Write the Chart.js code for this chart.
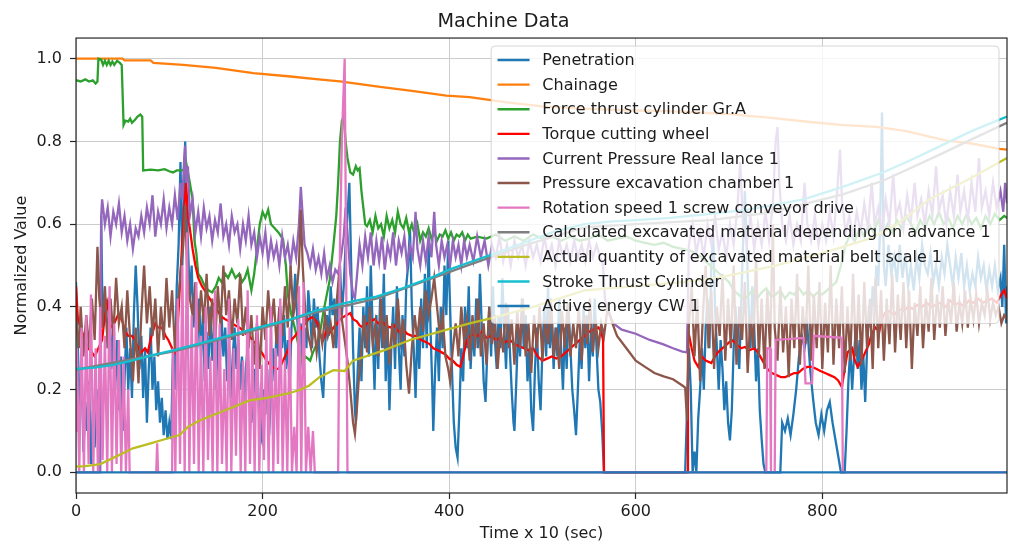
<!DOCTYPE html>
<html>
<head>
<meta charset="utf-8">
<title>Machine Data</title>
<script src="https://cdn.jsdelivr.net/npm/chart.js@4.4.1/dist/chart.umd.min.js"></script>
<style>
  html, body { margin: 0; padding: 0; background: #ffffff; }
  canvas { display: block; }
</style>
</head>
<body>
<canvas id="chart" width="1011" height="544"></canvas>
<script>
// Tick positions on both axes
const xTicks = [0, 200, 400, 600, 800];
const yTicks = [0.0, 0.2, 0.4, 0.6, 0.8, 1.0];

// Series names, in plotting order
const seriesNames = [
  'Penetration',
  'Chainage',
  'Force thrust cylinder Gr.A',
  'Torque cutting wheel',
  'Current Pressure Real lance 1',
  'Pressure excavation chamber 1',
  'Rotation speed 1 screw conveyor drive',
  'Calculated excavated material depending on advance 1',
  'Actual quantity of excavated material belt scale 1',
  'Stroke Thrust Cylinder',
  'Active energy CW 1'
];

// Each series: [time x 10 s, normalized value]
const penetration = [[0,0.46],[2,0.3],[4,0.15],[6,0.25],[8,0.05],[10,0.17],[12,0.1],[14,0.22],[16,0.02],[18,0.15],[20,0.06],[22,0.2],[24,0.12],[26,0.3],[27,0.62],[28,0.45],[30,0.36],[32,0.42],[34,0.3],[36,0.4],[38,0.25],[40,0.35],[42,0.2],[44,0.32],[46,0.15],[48,0.28],[50,0.1],[52,0.22],[54,0.35],[56,0.2],[58,0.3],[60,0.18],[62,0.38],[64,0.5],[66,0.4],[68,0.25],[70,0.33],[72,0.18],[74,0.3],[76,0.12],[78,0.25],[80,0.35],[82,0.2],[84,0.28],[86,0.15],[88,0.22],[90,0.12],[92,0.18],[94,0.09],[96,0.15],[98,0.08],[100,0.12],[102,0.08],[104,0.3],[106,0.2],[108,0.45],[110,0.55],[112,0.75],[114,0.5],[116,0.7],[117,0.8],[118,0.68],[120,0.55],[122,0.42],[124,0.5],[126,0.35],[128,0.45],[130,0.3],[132,0.42],[134,0.28],[136,0.38],[138,0.22],[140,0.34],[142,0.25],[144,0.4],[146,0.27],[148,0.35],[150,0.2],[152,0.32],[154,0.25],[156,0.38],[158,0.28],[160,0.35],[162,0.22],[164,0.3],[166,0.18],[168,0.28],[170,0.35],[172,0.25],[174,0.32],[176,0.2],[178,0.28],[180,0.15],[182,0.25],[184,0.3],[186,0.18],[188,0.12],[189,0.15],[191,0.25],[193,0.18],[195,0.22],[197,0.1],[199,0.08],[201,0.2],[203,0.14],[205,0.25],[207,0.09],[209,0.2],[211,0.3],[213,0.22],[215,0.35],[217,0.28],[219,0.4],[221,0.3],[223,0.38],[225,0.25],[227,0.32],[229,0.2],[231,0.35],[233,0.4],[235,0.48],[237,0.38],[239,0.3],[241,0.36],[243,0.25],[245,0.35],[247,0.3],[249,0.44],[251,0.38],[253,0.3],[255,0.42],[257,0.35],[259,0.4],[261,0.28],[263,0.22],[265,0.18],[267,0.3],[269,0.38],[271,0.33],[273,0.45],[275,0.38],[277,0.42],[279,0.3],[281,0.4],[283,0.5],[285,0.38],[287,0.45],[289,0.55],[291,0.62],[293,0.7],[295,0.5],[297,0.3],[299,0.15],[300,0.12],[302,0.25],[304,0.35],[306,0.22],[308,0.4],[310,0.3],[312,0.45],[314,0.28],[316,0.5],[318,0.35],[320,0.2],[322,0.38],[324,0.25],[326,0.42],[328,0.3],[330,0.48],[332,0.22],[334,0.35],[336,0.15],[338,0.3],[340,0.4],[342,0.25],[344,0.45],[346,0.3],[348,0.2],[350,0.38],[352,0.28],[354,0.45],[356,0.5],[358,0.59],[360,0.4],[362,0.3],[364,0.18],[366,0.35],[368,0.25],[370,0.42],[372,0.3],[374,0.48],[376,0.3],[378,0.55],[380,0.35],[382,0.2],[383,0.1],[385,0.25],[387,0.35],[389,0.22],[391,0.4],[393,0.3],[395,0.5],[397,0.38],[399,0.56],[401,0.4],[403,0.25],[405,0.12],[407,0.06],[409,0.036],[411,0.15],[413,0.3],[415,0.22],[417,0.4],[419,0.3],[421,0.45],[423,0.25],[425,0.35],[427,0.28],[429,0.42],[431,0.3],[433,0.48],[435,0.35],[437,0.22],[439,0.17],[441,0.3],[443,0.4],[445,0.28],[447,0.45],[449,0.32],[451,0.25],[453,0.38],[455,0.3],[457,0.47],[459,0.35],[461,0.25],[463,0.4],[465,0.3],[467,0.2],[469,0.12],[470,0.1],[472,0.22],[474,0.35],[476,0.28],[478,0.42],[480,0.3],[482,0.38],[484,0.22],[486,0.3],[488,0.15],[490,0.1],[492,0.25],[494,0.35],[496,0.22],[498,0.15],[500,0.3],[502,0.4],[504,0.28],[506,0.45],[508,0.3],[510,0.38],[512,0.25],[514,0.35],[516,0.28],[518,0.42],[520,0.3],[522,0.2],[524,0.35],[526,0.25],[528,0.4],[530,0.3],[532,0.2],[534,0.15],[536,0.09],[538,0.2],[540,0.32],[542,0.25],[544,0.4],[546,0.3],[548,0.38],[550,0.22],[552,0.35],[554,0.28],[556,0.42],[558,0.3],[560,0.2],[562,0.17],[564,0.1],[566,0.0],[653,0.0],[655,0.15],[657,0.3],[659,0.2],[661,0.0],[663,0.05],[665,0.0],[667,0.13],[669,0.2],[671,0.3],[673,0.2],[675,0.35],[677,0.42],[679,0.3],[681,0.5],[683,0.58],[685,0.4],[687,0.3],[689,0.2],[691,0.32],[693,0.25],[695,0.15],[697,0.22],[699,0.12],[701,0.077],[703,0.15],[705,0.3],[707,0.4],[709,0.3],[711,0.25],[713,0.4],[715,0.55],[717,0.68],[719,0.55],[721,0.4],[723,0.3],[725,0.45],[727,0.35],[729,0.22],[731,0.3],[733,0.15],[735,0.08],[737,0.02],[739,0.0],[755,0.0],[757,0.12],[760,0.1],[763,0.13],[766,0.09],[769,0.14],[772,0.2],[775,0.28],[778,0.33],[781,0.3],[784,0.35],[787,0.25],[790,0.18],[793,0.12],[796,0.09],[799,0.14],[802,0.1],[805,0.15],[808,0.17],[811,0.12],[814,0.08],[817,0.04],[820,0.0],[824,0.0],[826,0.1],[828,0.22],[830,0.3],[832,0.2],[834,0.28],[836,0.35],[838,0.25],[840,0.32],[842,0.2],[844,0.28],[846,0.17],[848,0.3],[850,0.4],[852,0.35],[854,0.45],[856,0.4],[858,0.5],[860,0.45],[862,0.6],[864,0.87],[866,0.5],[868,0.45],[871,0.55],[874,0.48],[877,0.52],[880,0.46],[883,0.55],[886,0.47],[889,0.53],[892,0.45],[895,0.5],[898,0.44],[901,0.52],[904,0.47],[907,0.55],[910,0.5],[913,0.48],[916,0.53],[919,0.46],[922,0.5],[925,0.45],[928,0.52],[931,0.48],[934,0.55],[937,0.5],[940,0.45],[943,0.52],[946,0.47],[949,0.53],[952,0.45],[955,0.5],[958,0.44],[961,0.48],[964,0.45],[967,0.52],[970,0.47],[973,0.5],[976,0.44],[979,0.49],[982,0.45],[985,0.5],[988,0.44],[991,0.47],[993,0.4],[995,0.55],[997,0.36],[998,0.45]];

const chainage = [[0,1.0],[50,1.0],[52,0.996],[80,0.996],[83,0.99],[115,0.985],[150,0.978],[190,0.965],[230,0.957],[260,0.95],[283,0.945],[326,0.932],[360,0.922],[397,0.911],[422,0.907],[460,0.895],[500,0.885],[540,0.88],[580,0.876],[637,0.873],[694,0.867],[740,0.858],[787,0.847],[820,0.84],[858,0.835],[890,0.825],[933,0.802],[960,0.795],[990,0.782],[998,0.78]];

const forceThrust = [[0,0.948],[5,0.945],[10,0.95],[14,0.945],[18,0.948],[21,0.94],[23,0.945],[24,1.0],[27,0.998],[29,0.985],[31,0.995],[33,0.985],[35,0.995],[37,0.985],[39,0.993],[41,0.985],[44,0.995],[47,0.99],[49,0.985],[51,0.84],[53,0.85],[56,0.848],[58,0.855],[60,0.845],[63,0.852],[66,0.86],[69,0.865],[71,0.86],[72,0.73],[80,0.732],[88,0.73],[95,0.733],[100,0.728],[104,0.725],[108,0.73],[112,0.73],[115,0.73],[118,0.75],[120,0.725],[122,0.7],[125,0.66],[127,0.56],[129,0.53],[131,0.48],[134,0.47],[138,0.45],[142,0.44],[146,0.435],[150,0.45],[153,0.47],[156,0.46],[160,0.48],[163,0.47],[167,0.49],[171,0.47],[175,0.48],[178,0.46],[181,0.47],[184,0.49],[188,0.44],[191,0.48],[194,0.54],[197,0.6],[200,0.63],[203,0.615],[206,0.635],[209,0.6],[213,0.59],[217,0.58],[222,0.563],[225,0.5],[227,0.43],[231,0.38],[235,0.345],[239,0.3],[242,0.27],[246,0.28],[251,0.27],[254,0.29],[258,0.31],[261,0.33],[265,0.385],[268,0.42],[272,0.465],[276,0.55],[279,0.62],[281,0.7],[283,0.8],[285,0.85],[287,0.86],[289,0.8],[291,0.76],[294,0.725],[297,0.72],[300,0.74],[302,0.73],[304,0.735],[306,0.68],[308,0.64],[310,0.6],[312,0.595],[315,0.61],[318,0.58],[321,0.62],[324,0.59],[327,0.6],[330,0.57],[333,0.62],[336,0.59],[339,0.61],[342,0.58],[345,0.63],[348,0.6],[351,0.59],[354,0.615],[357,0.58],[360,0.6],[363,0.575],[366,0.6],[369,0.56],[372,0.58],[375,0.57],[378,0.59],[381,0.565],[384,0.58],[387,0.56],[390,0.575],[393,0.57],[396,0.585],[399,0.565],[402,0.58],[405,0.56],[408,0.575],[411,0.57],[414,0.58],[417,0.56],[420,0.575],[423,0.565],[430,0.57],[440,0.565],[450,0.575],[460,0.56],[470,0.57],[480,0.56],[490,0.575],[500,0.565],[510,0.57],[520,0.56],[530,0.57],[540,0.56],[550,0.565],[560,0.575],[570,0.56],[580,0.565],[590,0.57],[600,0.56],[610,0.555],[620,0.55],[630,0.555],[640,0.545],[650,0.54],[660,0.535],[670,0.52],[680,0.5],[690,0.48],[700,0.46],[705,0.44],[710,0.43],[715,0.42],[720,0.425],[725,0.44],[730,0.42],[735,0.435],[740,0.445],[745,0.425],[750,0.43],[755,0.44],[760,0.42],[765,0.435],[770,0.43],[775,0.445],[780,0.43],[785,0.44],[790,0.425],[795,0.435],[800,0.43],[805,0.44],[810,0.45],[815,0.46],[820,0.5],[825,0.55],[830,0.575],[835,0.56],[840,0.59],[845,0.57],[850,0.6],[855,0.58],[860,0.61],[865,0.575],[870,0.6],[875,0.58],[880,0.61],[885,0.59],[890,0.62],[895,0.6],[900,0.58],[905,0.61],[910,0.59],[915,0.62],[920,0.6],[925,0.63],[930,0.6],[935,0.615],[940,0.59],[945,0.62],[950,0.6],[955,0.625],[960,0.6],[965,0.615],[970,0.59],[975,0.62],[980,0.6],[985,0.625],[990,0.61],[995,0.62],[998,0.615]];

const torque = [[0,0.45],[2,0.37],[5,0.35],[8,0.33],[13,0.3],[17,0.29],[20,0.28],[24,0.3],[28,0.32],[31,0.38],[34,0.41],[37,0.35],[41,0.36],[45,0.38],[49,0.37],[53,0.34],[56,0.33],[60,0.33],[63,0.32],[67,0.3],[70,0.29],[74,0.3],[77,0.29],[81,0.33],[85,0.36],[88,0.35],[92,0.35],[96,0.33],[99,0.32],[103,0.3],[106,0.29],[109,0.35],[112,0.48],[114,0.56],[116,0.64],[118,0.7],[120,0.62],[122,0.59],[125,0.54],[128,0.5],[131,0.47],[135,0.45],[138,0.44],[142,0.425],[146,0.41],[149,0.4],[152,0.39],[156,0.376],[160,0.37],[164,0.365],[167,0.36],[171,0.355],[175,0.35],[178,0.345],[182,0.335],[186,0.33],[189,0.32],[193,0.31],[196,0.3],[199,0.29],[203,0.275],[206,0.265],[210,0.255],[214,0.25],[217,0.25],[220,0.26],[224,0.28],[228,0.3],[231,0.32],[235,0.33],[238,0.34],[242,0.35],[246,0.36],[249,0.37],[253,0.375],[256,0.37],[259,0.36],[262,0.33],[265,0.32],[268,0.34],[272,0.337],[276,0.35],[280,0.36],[283,0.37],[286,0.375],[290,0.38],[294,0.385],[297,0.37],[301,0.365],[304,0.355],[308,0.35],[312,0.36],[316,0.365],[320,0.37],[324,0.36],[328,0.365],[332,0.355],[337,0.35],[341,0.355],[346,0.34],[351,0.345],[355,0.335],[360,0.33],[365,0.33],[370,0.32],[375,0.315],[379,0.31],[383,0.3],[388,0.295],[392,0.29],[396,0.285],[400,0.275],[404,0.27],[408,0.26],[412,0.255],[415,0.28],[419,0.32],[423,0.33],[427,0.335],[431,0.33],[435,0.34],[440,0.325],[445,0.33],[450,0.32],[455,0.325],[460,0.315],[465,0.32],[470,0.31],[475,0.305],[480,0.3],[485,0.295],[490,0.3],[495,0.28],[500,0.27],[505,0.275],[510,0.28],[515,0.275],[520,0.28],[525,0.29],[530,0.3],[535,0.31],[540,0.32],[545,0.33],[550,0.34],[555,0.345],[560,0.35],[563,0.34],[565,0.32],[566,0.0],[655,0.0],[656,0.345],[660,0.3],[663,0.27],[667,0.255],[671,0.28],[675,0.27],[681,0.264],[685,0.28],[688,0.29],[693,0.3],[698,0.31],[703,0.32],[708,0.31],[713,0.3],[717,0.303],[722,0.295],[727,0.3],[731,0.29],[736,0.27],[741,0.25],[746,0.24],[751,0.235],[756,0.23],[760,0.23],[765,0.235],[770,0.24],[774,0.24],[779,0.25],[784,0.255],[789,0.255],[794,0.25],[798,0.245],[803,0.24],[808,0.235],[813,0.23],[817,0.222],[821,0.206],[824,0.25],[827,0.29],[832,0.3],[835,0.27],[838,0.255],[842,0.27],[846,0.29],[850,0.31],[853,0.335],[857,0.35],[861,0.34],[864,0.37],[867,0.385],[872,0.39],[877,0.38],[882,0.395],[887,0.39],[892,0.4],[897,0.395],[902,0.405],[907,0.4],[912,0.41],[917,0.4],[922,0.405],[927,0.41],[932,0.4],[937,0.415],[942,0.405],[947,0.41],[952,0.4],[957,0.415],[962,0.41],[967,0.42],[972,0.41],[977,0.415],[982,0.42],[987,0.41],[992,0.43],[995,0.44],[998,0.42]];

const lancePressure = [[0,0],[26,0],[27,0.62],[28,0.66],[31,0.6],[34,0.64],[37,0.57],[40,0.63],[43,0.6],[46,0.65],[49,0.58],[52,0.62],[55,0.56],[58,0.6],[61,0.54],[64,0.59],[67,0.57],[70,0.62],[73,0.58],[76,0.64],[79,0.6],[82,0.67],[85,0.57],[88,0.63],[91,0.6],[94,0.66],[97,0.59],[100,0.64],[103,0.6],[106,0.67],[109,0.61],[112,0.7],[114,0.66],[116,0.76],[117,0.79],[118,0.7],[120,0.74],[122,0.62],[125,0.66],[128,0.58],[131,0.63],[134,0.57],[137,0.64],[140,0.59],[143,0.62],[146,0.56],[149,0.61],[152,0.58],[155,0.65],[158,0.57],[161,0.6],[164,0.55],[167,0.62],[170,0.58],[173,0.6],[176,0.54],[179,0.6],[182,0.56],[185,0.62],[188,0.55],[191,0.58],[194,0.52],[197,0.57],[200,0.53],[203,0.58],[206,0.51],[209,0.56],[212,0.52],[215,0.55],[218,0.5],[221,0.57],[224,0.52],[227,0.55],[230,0.5],[233,0.56],[236,0.52],[239,0.6],[241,0.69],[243,0.62],[245,0.55],[248,0.53],[251,0.5],[254,0.54],[257,0.49],[260,0.52],[263,0.48],[266,0.53],[269,0.47],[272,0.5],[275,0.46],[278,0.49],[281,0.48],[284,0.52],[287,0.57],[289,0.64],[291,0.58],[294,0.48],[297,0.43],[299,0.42],[301,0.47],[304,0.55],[307,0.5],[310,0.57],[313,0.52],[316,0.58],[319,0.5],[322,0.56],[325,0.51],[328,0.57],[331,0.49],[334,0.55],[337,0.52],[340,0.58],[343,0.5],[346,0.56],[349,0.53],[352,0.57],[355,0.5],[358,0.55],[361,0.52],[364,0.63],[366,0.54],[369,0.5],[372,0.56],[375,0.51],[378,0.57],[381,0.52],[384,0.63],[386,0.55],[389,0.5],[392,0.56],[395,0.52],[398,0.55],[401,0.5],[404,0.56],[407,0.52],[410,0.55],[413,0.5],[416,0.56],[419,0.52],[422,0.55],[426,0.51],[430,0.57],[434,0.52],[438,0.56],[442,0.5],[446,0.55],[450,0.52],[454,0.57],[458,0.51],[462,0.55],[466,0.5],[470,0.56],[474,0.52],[478,0.55],[482,0.5],[486,0.56],[490,0.52],[494,0.55],[498,0.51],[502,0.57],[506,0.52],[510,0.55],[514,0.5],[518,0.56],[522,0.52],[526,0.55],[530,0.51],[534,0.56],[538,0.52],[542,0.55],[546,0.51],[550,0.56],[554,0.52],[558,0.55],[562,0.52],[565,0.5],[567,0.42],[570,0.39],[576,0.36],[585,0.345],[600,0.335],[615,0.32],[629,0.31],[640,0.3],[650,0.292],[655,0.29],[657,0.55],[661,0.6],[665,0.53],[669,0.58],[673,0.52],[677,0.6],[681,0.55],[685,0.62],[689,0.54],[693,0.58],[697,0.52],[701,0.6],[705,0.55],[709,0.64],[712,0.75],[715,0.6],[719,0.55],[723,0.62],[727,0.54],[731,0.6],[735,0.55],[739,0.63],[743,0.56],[747,0.65],[750,0.8],[752,0.835],[754,0.7],[757,0.6],[761,0.56],[765,0.62],[769,0.55],[773,0.6],[777,0.56],[781,0.7],[784,0.6],[788,0.56],[792,0.62],[796,0.55],[800,0.6],[804,0.56],[808,0.63],[812,0.57],[816,0.68],[819,0.78],[821,0.66],[825,0.58],[829,0.62],[833,0.57],[837,0.63],[841,0.58],[845,0.65],[849,0.59],[853,0.7],[856,0.6],[860,0.64],[864,0.58],[868,0.66],[872,0.6],[876,0.72],[879,0.62],[883,0.65],[887,0.59],[891,0.67],[895,0.61],[899,0.7],[902,0.62],[906,0.66],[910,0.6],[914,0.68],[918,0.62],[922,0.74],[925,0.63],[929,0.67],[933,0.6],[937,0.68],[941,0.62],[945,0.72],[948,0.63],[952,0.68],[956,0.61],[960,0.7],[964,0.63],[968,0.76],[971,0.64],[975,0.68],[979,0.62],[983,0.7],[987,0.64],[991,0.68],[994,0.63],[996,0.7],[998,0.65]];

const chamberPressure = [[0,0.37],[3,0.3],[5,0.4],[8,0.28],[11,0.38],[14,0.3],[17,0.42],[20,0.32],[23,0.545],[25,0.42],[28,0.35],[31,0.45],[34,0.3],[37,0.42],[40,0.33],[43,0.47],[46,0.36],[49,0.4],[52,0.3],[55,0.44],[58,0.32],[61,0.22],[64,0.35],[67,0.215],[70,0.38],[73,0.5],[76,0.36],[79,0.45],[82,0.33],[85,0.42],[88,0.28],[91,0.4],[94,0.32],[97,0.47],[100,0.35],[103,0.44],[106,0.3],[109,0.4],[112,0.48],[115,0.55],[117,0.645],[119,0.5],[122,0.42],[125,0.38],[128,0.46],[131,0.34],[134,0.44],[137,0.36],[140,0.48],[143,0.33],[146,0.42],[149,0.3],[152,0.45],[155,0.35],[158,0.5],[161,0.38],[164,0.44],[167,0.32],[170,0.42],[173,0.36],[176,0.48],[179,0.33],[182,0.4],[185,0.3],[188,0.38],[191,0.26],[194,0.36],[197,0.25],[200,0.4],[203,0.32],[206,0.44],[209,0.35],[212,0.42],[215,0.31],[218,0.4],[221,0.33],[224,0.45],[227,0.35],[230,0.5],[233,0.38],[236,0.42],[239,0.5],[241,0.635],[243,0.5],[246,0.38],[249,0.33],[252,0.3],[255,0.36],[258,0.29],[261,0.35],[264,0.31],[267,0.38],[270,0.33],[273,0.36],[276,0.3],[279,0.4],[282,0.48],[285,0.37],[288,0.32],[291,0.27],[294,0.2],[297,0.12],[299,0.093],[301,0.15],[303,0.22],[306,0.3],[309,0.38],[312,0.29],[315,0.4],[318,0.31],[321,0.36],[324,0.28],[327,0.42],[330,0.3],[333,0.38],[336,0.26],[339,0.36],[342,0.3],[345,0.42],[348,0.32],[351,0.37],[354,0.26],[357,0.19],[360,0.3],[363,0.38],[366,0.32],[369,0.4],[372,0.34],[375,0.44],[378,0.38],[381,0.42],[384,0.47],[387,0.4],[390,0.33],[393,0.38],[396,0.28],[399,0.25],[401,0.22],[404,0.3],[407,0.36],[410,0.28],[413,0.4],[416,0.32],[419,0.37],[422,0.27],[425,0.38],[428,0.3],[431,0.42],[434,0.28],[437,0.36],[440,0.26],[443,0.4],[446,0.31],[449,0.38],[452,0.25],[455,0.35],[458,0.29],[461,0.41],[464,0.3],[467,0.37],[470,0.26],[473,0.39],[476,0.3],[479,0.42],[482,0.28],[485,0.36],[488,0.24],[491,0.38],[494,0.3],[497,0.4],[500,0.27],[503,0.37],[506,0.31],[509,0.42],[512,0.28],[515,0.35],[518,0.25],[521,0.39],[524,0.3],[527,0.41],[530,0.28],[533,0.36],[536,0.3],[539,0.4],[542,0.27],[545,0.38],[548,0.31],[551,0.42],[554,0.29],[557,0.37],[560,0.3],[563,0.36],[566,0.33],[570,0.4],[575,0.36],[580,0.33],[590,0.3],[600,0.27],[610,0.255],[620,0.24],[630,0.232],[640,0.225],[650,0.21],[653,0.205],[655,0.125],[657,0.36],[660,0.45],[663,0.28],[666,0.42],[669,0.22],[672,0.38],[675,0.5],[678,0.3],[681,0.44],[684,0.25],[687,0.4],[690,0.33],[693,0.48],[696,0.27],[699,0.42],[702,0.3],[705,0.5],[708,0.26],[711,0.4],[714,0.32],[717,0.46],[720,0.24],[723,0.38],[726,0.3],[729,0.52],[732,0.28],[735,0.42],[738,0.25],[741,0.44],[744,0.3],[747,0.6],[749,0.35],[752,0.27],[755,0.45],[758,0.29],[761,0.4],[764,0.23],[767,0.42],[770,0.3],[773,0.48],[776,0.26],[779,0.4],[782,0.31],[785,0.5],[788,0.27],[791,0.43],[794,0.3],[797,0.46],[800,0.25],[803,0.41],[806,0.29],[809,0.5],[812,0.26],[815,0.42],[818,0.3],[821,0.45],[824,0.24],[827,0.4],[830,0.27],[833,0.48],[836,0.28],[839,0.43],[842,0.26],[845,0.46],[848,0.3],[851,0.42],[854,0.25],[857,0.47],[860,0.3],[863,0.44],[866,0.27],[869,0.42],[872,0.31],[875,0.48],[878,0.29],[881,0.43],[884,0.32],[887,0.46],[890,0.3],[893,0.44],[896,0.25],[899,0.41],[902,0.33],[905,0.45],[908,0.3],[911,0.42],[914,0.34],[917,0.47],[920,0.32],[923,0.43],[926,0.35],[929,0.45],[932,0.33],[935,0.42],[938,0.36],[941,0.46],[944,0.34],[947,0.41],[950,0.36],[953,0.44],[956,0.35],[959,0.42],[962,0.37],[965,0.43],[968,0.36],[971,0.41],[974,0.38],[977,0.44],[980,0.37],[983,0.41],[986,0.38],[989,0.4],[992,0.36],[995,0.38],[998,0.37]];

const screwSpeed = [[0,0.1],[1,0.3],[3.5,0],[6,0.35],[8.5,0],[11,0.38],[13.5,0.02],[16,0.43],[18.5,0],[21,0.3],[23.5,0],[26,0.4],[28.5,0.03],[31,0.33],[33.5,0],[36,0.45],[38.5,0],[41,0.36],[43.5,0.02],[46,0.32],[48.5,0],[51,0.28],[53.5,0],[56,0.2],[57.5,0],[86,0],[87,0.07],[88,0],[103,0],[104,0.3],[106.5,0],[109,0.42],[111.5,0.02],[114,0.5],[116.5,0],[119,0.58],[121.5,0],[124,0.38],[126.5,0.02],[129,0.46],[131.5,0],[134,0.33],[136.5,0],[139,0.4],[141.5,0.03],[144,0.28],[146.5,0],[149,0.44],[151.5,0],[154,0.36],[156.5,0.02],[159,0.25],[161.5,0],[164,0.42],[166.5,0],[169,0.3],[171.5,0.04],[174,0.37],[176.5,0],[179,0.27],[181.5,0],[184,0.44],[186.5,0.02],[189,0.32],[191.5,0],[194,0.38],[196.5,0],[199,0.26],[201.5,0.03],[204,0.35],[206.5,0],[209,0.4],[211.5,0],[214,0.3],[216.5,0.02],[219,0.42],[221.5,0],[224,0.27],[226.5,0],[229,0.35],[231.5,0],[234,0.11],[236.5,0],[239,0.45],[241.5,0],[244,0.46],[246.5,0],[249,0.11],[251.5,0],[254,0.1],[256,0],[281,0],[283,0.55],[285,0.8],[288,1.0],[289,0.7],[291,0],[740,0],[741,0.3],[744,0.3],[745,0],[749,0],[750,0.32],[780,0.325],[782,0.215],[789,0.215],[791,0.33],[821,0.325],[822,0],[998,0]];

const calculatedMaterial = [[0,0.248],[106,0.293],[199,0.348],[256,0.386],[322,0.42],[422,0.502],[480,0.548],[545,0.592],[600,0.6],[680,0.61],[744,0.628],[822,0.672],[865,0.705],[923,0.765],[960,0.805],[998,0.845]];

const beltScale = [[0,0.014],[10,0.015],[26,0.02],[40,0.035],[61,0.058],[80,0.07],[95,0.08],[111,0.09],[120,0.11],[133,0.126],[160,0.15],[186,0.174],[205,0.18],[226,0.19],[240,0.199],[250,0.21],[261,0.23],[276,0.247],[288,0.245],[297,0.27],[330,0.295],[358,0.32],[390,0.34],[422,0.36],[450,0.375],[490,0.4],[545,0.44],[600,0.45],[650,0.46],[688,0.47],[750,0.5],[800,0.53],[851,0.565],[880,0.6],[915,0.66],[958,0.71],[998,0.76]];

const strokeCylinder = [[0,0.25],[20,0.253],[40,0.26],[60,0.27],[80,0.282],[106,0.296],[130,0.31],[160,0.328],[199,0.352],[230,0.37],[256,0.39],[280,0.405],[300,0.415],[322,0.425],[350,0.445],[380,0.47],[400,0.49],[422,0.508],[450,0.53],[480,0.555],[510,0.58],[545,0.6],[572,0.606],[600,0.61],[637,0.615],[680,0.625],[720,0.635],[744,0.645],[780,0.66],[822,0.69],[865,0.725],[895,0.755],[923,0.785],[960,0.825],[998,0.86]];

const activeEnergy = [[0,0],[998,0]];

const seriesData = [penetration, chainage, forceThrust, torque, lancePressure, chamberPressure,
  screwSpeed, calculatedMaterial, beltScale, strokeCylinder, activeEnergy];

const seriesColors = ['#1f77b4', '#ff7f0e', '#2ca02c', '#ff0000', '#9467bd', '#8c564b',
  '#e377c2', '#7f7f7f', '#bcbd22', '#17becf', '#1f77b4'];

const FONT = 'DejaVu Sans';
const TEXT = '#1c1c1c';

// Spines around the axes, drawn over the lines like matplotlib does
const spinesPlugin = {
  id: 'spines',
  afterDatasetsDraw(chart) {
    const { ctx, chartArea: a } = chart;
    ctx.save();
    ctx.strokeStyle = '#262626';
    ctx.lineWidth = 1.2;
    ctx.strokeRect(a.left, a.top, a.right - a.left, a.bottom - a.top);
    ctx.restore();
  }
};

// Legend box inside the upper right corner of the axes, semi-transparent
const innerLegendPlugin = {
  id: 'innerLegend',
  afterDraw(chart) {
    const { ctx, chartArea: a } = chart;
    const fs = 16;
    const pad = 0.4 * fs, handle = 2 * fs, gap = 0.8 * fs, rowH = 24.6;
    ctx.save();
    ctx.font = fs + 'px "' + FONT + '"';
    let maxW = 0;
    seriesNames.forEach(n => { maxW = Math.max(maxW, ctx.measureText(n).width); });
    const w = pad + handle + gap + maxW + pad + 2;
    const h = pad * 2 + rowH * seriesNames.length - 6;
    const right = a.right - 8, top = a.top + 8;
    const left = right - w;
    ctx.beginPath();
    if (ctx.roundRect) ctx.roundRect(left, top, w, h, 4); else ctx.rect(left, top, w, h);
    ctx.fillStyle = 'rgba(255,255,255,0.8)';
    ctx.fill();
    ctx.strokeStyle = 'rgba(204,204,204,0.8)';
    ctx.lineWidth = 1;
    ctx.stroke();
    ctx.textBaseline = 'middle';
    ctx.textAlign = 'left';
    seriesNames.forEach((n, i) => {
      const y = top + 14 + i * rowH;
      ctx.strokeStyle = seriesColors[i];
      ctx.lineWidth = 2.4;
      ctx.beginPath();
      ctx.moveTo(left + pad, y);
      ctx.lineTo(left + pad + handle, y);
      ctx.stroke();
      ctx.fillStyle = TEXT;
      ctx.fillText(n, left + pad + handle + gap, y + 1);
    });
    ctx.restore();
  }
};

const datasets = seriesData.map((pts, i) => ({
  label: seriesNames[i],
  data: pts.map(p => ({ x: p[0], y: p[1] })),
  borderColor: seriesColors[i],
  backgroundColor: seriesColors[i],
  borderWidth: 2.3,
  pointRadius: 0,
  tension: 0,
  fill: false,
  order: seriesData.length - i
}));

new Chart(document.getElementById('chart'), {
  type: 'line',
  data: { datasets },
  plugins: [spinesPlugin, innerLegendPlugin],
  options: {
    responsive: false,
    animation: false,
    devicePixelRatio: 1,
    layout: { padding: { left: 0, right: 4, top: 0, bottom: 0 } },
    plugins: {
      legend: { display: false },
      tooltip: { enabled: false },
      title: {
        display: true,
        text: 'Machine Data',
        color: TEXT,
        font: { family: FONT, size: 19.2, weight: 'normal' },
        padding: { top: 10, bottom: 5 }
      }
    },
    scales: {
      x: {
        type: 'linear',
        min: 0,
        max: 998,
        afterBuildTicks(scale) { scale.ticks = xTicks.map(v => ({ value: v })); },
        afterFit(scale) { scale.height = 51; },
        border: { display: false },
        grid: { color: '#cccccc', lineWidth: 1, drawTicks: true, tickLength: 6, tickColor: '#262626', tickWidth: 1.2 },
        ticks: { color: TEXT, font: { family: FONT, size: 16 }, padding: 3, maxRotation: 0, autoSkip: false,
                 callback: v => String(v) },
        title: { display: true, text: 'Time x 10 (sec)', color: TEXT,
                 font: { family: FONT, size: 16 }, padding: { top: 0, bottom: 1 } }
      },
      y: {
        type: 'linear',
        min: -0.05,
        max: 1.05,
        afterBuildTicks(scale) { scale.ticks = yTicks.map(v => ({ value: v })); },
        afterFit(scale) { scale.width = 76; },
        border: { display: false },
        grid: { color: '#cccccc', lineWidth: 1, drawTicks: true, tickLength: 6, tickColor: '#262626', tickWidth: 1.2 },
        ticks: { color: TEXT, font: { family: FONT, size: 16 }, padding: 8,
                 callback: v => Number(v).toFixed(1) },
        title: { display: true, text: 'Normalized Value', color: TEXT,
                 font: { family: FONT, size: 16 }, padding: { top: 12, bottom: 0 } }
      }
    }
  }
});
</script>
</body>
</html>
